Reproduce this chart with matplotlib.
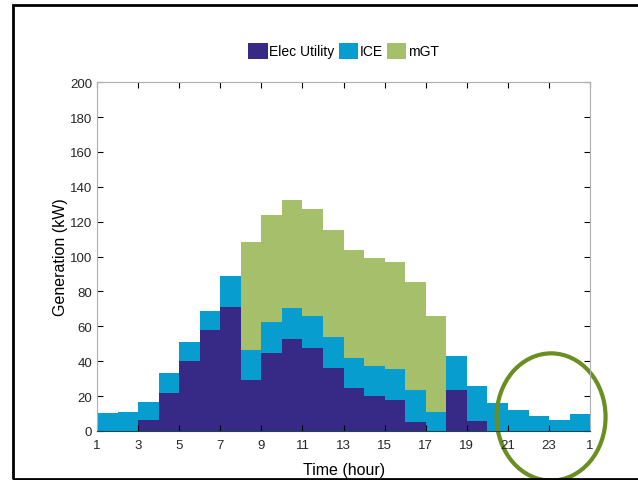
import numpy as np
import matplotlib.pyplot as plt
from matplotlib.patches import Ellipse, Rectangle

plt.rcParams['font.family'] = ['Liberation Sans', 'DejaVu Sans']

hours = np.arange(1, 25)
elec_utility = [0, 0, 6, 22, 40, 58, 71, 29, 44.7, 52.7, 47.7, 36,
                24.4, 19.8, 17.8, 5.2, 0, 23.3, 5.9, 0, 0, 0, 0, 0]
ice = [10.3, 10.6, 10.6, 11.2, 11, 11, 17.8, 17.6, 17.5, 18, 18, 17.6,
       17.6, 17.6, 17.5, 18.5, 10.7, 19.8, 20.1, 16, 12.2, 8.6, 6.1, 9.5]
mgt = [0, 0, 0, 0, 0, 0, 0, 61.7, 61.9, 61.5, 61.5, 61.4,
       61.9, 61.7, 61.7, 62, 55.4, 0, 0, 0, 0, 0, 0, 0]
series_names = ['Elec Utility', 'ICE', 'mGT']
colors = ['#372a87', '#079dcf', '#a6bf6b']
xtick_vals = np.arange(1, 26, 2)
xtick_labels = [str(h) for h in range(1, 24, 2)] + ['1']

fig = plt.figure(figsize=(6.38, 4.81), dpi=100)
ax = fig.add_axes([0.152, 0.102, 0.773, 0.725])

bottom = np.zeros(len(hours))
for vals, name, c in zip([elec_utility, ice, mgt], series_names, colors):
    vals = np.array(vals)
    ax.bar(hours, vals, width=1.0, bottom=bottom, align='edge', color=c,
           edgecolor='none', label=name)
    bottom += vals

ax.set_xlim(1, 25)
ax.set_ylim(0, 200)
ax.set_xticks(xtick_vals)
ax.set_xticklabels(xtick_labels)
ax.set_yticks(np.arange(0, 201, 20))
ax.tick_params(direction='in', top=True, right=True, length=4, width=0.8,
               labelsize=9.5, colors='black', labelcolor='#262626')
ax.tick_params(axis='x', pad=6)
for s in ['top', 'left', 'right']:
    ax.spines[s].set_color('#b0b0b0')
ax.spines['bottom'].set_color('#1d4555')
ax.set_xlabel('Time (hour)', fontsize=11.5, labelpad=8)
ax.set_ylabel('Generation (kW)', fontsize=11.5, labelpad=1)

leg = ax.legend(loc='center', bbox_to_anchor=(0.5, 1.09), ncol=3, frameon=False,
                fontsize=10, handlelength=1.4, handleheight=1.4,
                handletextpad=0.1, columnspacing=0.3)

# highlight ellipse around the late-night hours
ax.add_patch(Ellipse((23.1, 8), width=5.3, height=73, fill=False,
                     edgecolor='#6b8e23', linewidth=3, clip_on=False))

# outer black frame
fig.patches.append(Rectangle((12.5 / 638, 1 - 479.5 / 481), 1.0, (479.5 - 5.5) / 481,
                             transform=fig.transFigure, fill=False,
                             edgecolor='black', linewidth=2))

fig.savefig('out.png', dpi=100)
